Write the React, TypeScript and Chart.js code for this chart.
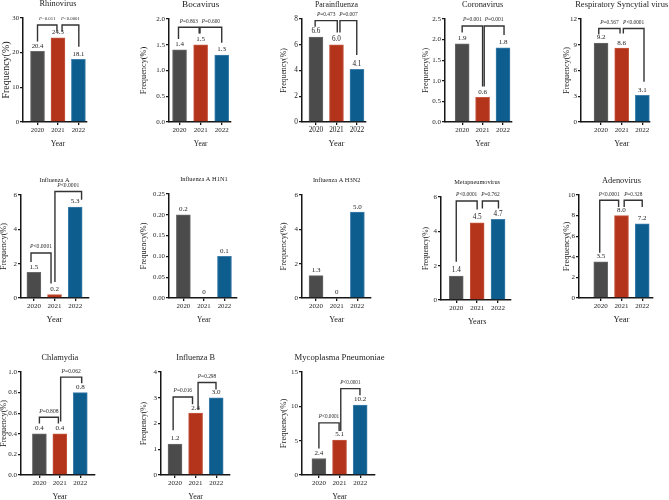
import React, { useEffect, useRef } from "react";
import { Chart, registerables } from "chart.js";

Chart.register(...registerables);

const FONT = '"Liberation Serif", "Times New Roman", serif';

// ---------------- data ----------------
const YEARS = ["2020", "2021", "2022"];
const BAR_COLORS = ["#4b4b4b", "#b3341b", "#0d5d8e"];
const BAR_EDGES = ["#6a6a6a", "#c65a43", "#3f7fab"];

const TITLES = [
  "Rhinovirus",
  "Bocavirus",
  "Parainfluenza",
  "Coronavirus",
  "Respiratory Syncytial virus",
  "Influenza A",
  "Influenza A H1N1",
  "Influenza A H3N2",
  "Metapneumovirus",
  "Adenovirus",
  "Chlamydia",
  "Influenza B",
  "Mycoplasma Pneumoniae",
];
const X_TITLES = ["Year", "Year", "Year", "Year", "Year", "Year", "Year", "Year", "Years", "Year", "Year", "Year", "Year"];
const Y_TITLE = "Frequency(%)";

const RHINOVIRUS = [20.4, 24.3, 18.1];
const BOCAVIRUS = [1.4, 1.5, 1.3];
const PARAINFLUENZA = [6.6, 6.0, 4.1];
const CORONAVIRUS = [1.9, 0.6, 1.8];
const RSV = [9.2, 8.6, 3.1];
const INFLUENZA_A = [1.5, 0.2, 5.3];
const INFLUENZA_A_H1N1 = [0.2, 0, 0.1];
const INFLUENZA_A_H3N2 = [1.3, 0, 5.0];
const METAPNEUMOVIRUS = [1.4, 4.5, 4.7];
const ADENOVIRUS = [3.5, 8.0, 7.2];
const CHLAMYDIA = [0.4, 0.4, 0.8];
const INFLUENZA_B = [1.2, 2.4, 3.0];
const MYCOPLASMA = [2.4, 5.1, 10.2];

const Y_MAX = [30, 2, 8, 2.5, 12, 6, 0.25, 6, 6, 10, 1, 4, 15];
const Y_STEP = [10, 0.5, 2, 0.5, 3, 2, 0.05, 2, 2, 2, 0.2, 1, 5];
const Y_DECIMALS = [0, 1, 0, 1, 0, 0, 2, 0, 0, 0, 1, 0, 0];

// brackets: [x from, x to, bracket height, left leg end, right leg end, label]
const BR_RHINOVIRUS = [
  [1.0, 1.95, 28.0, 23.2, 26.1, "P=0.011"],
  [2.2, 3.02, 28.0, 26.1, 21.7, "P<0.0001"],
];
const BR_BOCAVIRUS = [
  [0.95, 1.93, 1.84, 1.61, 1.72, "P=0.863"],
  [1.97, 3.0, 1.84, 1.72, 1.54, "P=0.600"],
];
const BR_PARAINFLUENZA = [
  [0.96, 2.04, 7.87, 7.4, 6.96, "P=0.473"],
  [2.17, 2.99, 7.87, 6.96, 5.2, "P=0.007"],
];
const BR_CORONAVIRUS = [
  [1.0, 2.0, 2.33, 2.17, 0.86, "P=0.001"],
  [2.08, 3.05, 2.33, 0.86, 2.11, "P=0.001"],
];
const BR_RSV = [
  [0.89, 1.92, 10.9, 10.2, 10.3, "P=0.567"],
  [2.08, 3.08, 10.9, 10.3, 4.7, "P<0.0001"],
];
const BR_INFLUENZA_A = [
  [0.86, 1.83, 2.62, 2.1, 0.84, "P<0.0001"],
  [2.02, 3.31, 6.2, 0.93, 5.73, "P<0.0001"],
];
const BR_METAPNEUMOVIRUS = [
  [1.0, 2.0, 5.77, 2.23, 5.27, "P<0.0001"],
  [2.25, 3.02, 5.77, 5.33, 5.33, "P=0.762"],
];
const BR_ADENOVIRUS = [
  [0.95, 1.86, 9.49, 4.4, 8.84, "P<0.0001"],
  [2.13, 3.0, 9.49, 8.84, 8.84, "P=0.328"],
];
const BR_CHLAMYDIA = [
  [1.0, 1.93, 0.56, 0.5, 0.5, "P=0.808"],
  [2.04, 3.07, 0.95, 0.52, 0.89, "P=0.062"],
];
const BR_INFLUENZA_B = [
  [0.91, 1.85, 3.03, 1.74, 2.75, "P=0.016"],
  [2.12, 2.99, 3.59, 2.52, 3.32, "P=0.298"],
];
const BR_MYCOPLASMA = [
  [1.0, 1.98, 7.59, 3.87, 6.4, "P<0.0001"],
  [2.06, 2.99, 12.58, 6.4, 11.6, "P<0.0001"],
];

const VALUES = [
  RHINOVIRUS, BOCAVIRUS, PARAINFLUENZA, CORONAVIRUS, RSV,
  INFLUENZA_A, INFLUENZA_A_H1N1, INFLUENZA_A_H3N2, METAPNEUMOVIRUS, ADENOVIRUS,
  CHLAMYDIA, INFLUENZA_B, MYCOPLASMA,
];
const BRACKETS: any[][] = [
  BR_RHINOVIRUS, BR_BOCAVIRUS, BR_PARAINFLUENZA, BR_CORONAVIRUS, BR_RSV,
  BR_INFLUENZA_A, [], [], BR_METAPNEUMOVIRUS, BR_ADENOVIRUS,
  BR_CHLAMYDIA, BR_INFLUENZA_B, BR_MYCOPLASMA,
];

// ---------------- layout (positions / sizes) ----------------
const LAYOUT = [
  { L: 23, T: 18, R: 87, B: 122, xmin: 0.29, xmax: 3.42, title: 8.3, yTitle: 10, yOff: 16.7, xTitle: 7.9, tick: 6.7, val: 6.7, p: 4.8 },
  { L: 169, T: 19, R: 231, B: 122, xmin: 0.5, xmax: 3.44, title: 9.2, yTitle: 8.3, yOff: 25, xTitle: 7.4, tick: 7, val: 7, p: 5.3 },
  { L: 302, T: 19, R: 366, B: 122, xmin: 0.32, xmax: 3.44, title: 7.8, yTitle: 7.8, yOff: 17.7, xTitle: 8.6, tick: 7.3, val: 7.2, p: 5.4 },
  { L: 445, T: 19, R: 512, B: 122, xmin: 0.16, xmax: 3.44, title: 8.4, yTitle: 7.9, yOff: 19, xTitle: 7.9, tick: 7, val: 7, p: 5.5 },
  { L: 581, T: 19, R: 650, B: 122, xmin: 0.03, xmax: 3.37, title: 8.5, yTitle: 8.2, yOff: 14.3, xTitle: 8.2, tick: 7, val: 7, p: 5.4 },
  { L: 21, T: 195, R: 89, B: 298, xmin: 0.375, xmax: 3.67, title: 6.3, yTitle: 8.2, yOff: 17.4, xTitle: 8.6, tick: 7, val: 7, p: 5.6 },
  { L: 169, T: 194, R: 237, B: 298, xmin: 0.3, xmax: 3.61, title: 6.4, yTitle: 8.2, yOff: 25, xTitle: 7.4, tick: 6.8, val: 7, p: 5.5 },
  { L: 302, T: 195, R: 371, B: 298, xmin: 0.32, xmax: 3.66, title: 6.4, yTitle: 8.4, yOff: 17.7, xTitle: 8.2, tick: 7, val: 7, p: 5.5 },
  { L: 441, T: 197, R: 511, B: 300, xmin: 0.27, xmax: 3.62, title: 6.3, yTitle: 7.5, yOff: 15, xTitle: 8.3, tick: 7, val: 7.2, p: 5.4 },
  { L: 579, T: 195, R: 653, B: 298, xmin: -0.05, xmax: 3.52, title: 8.4, yTitle: 8.7, yOff: 12.7, xTitle: 8.6, tick: 7, val: 7, p: 5.3 },
  { L: 21, T: 372, R: 95, B: 475, xmin: 0.1, xmax: 3.72, title: 8.4, yTitle: 8.2, yOff: 17.4, xTitle: 8, tick: 7, val: 7, p: 5.6 },
  { L: 161, T: 372, R: 230, B: 475, xmin: 0.32, xmax: 3.67, title: 8.3, yTitle: 7.5, yOff: 17.3, xTitle: 8, tick: 7, val: 7, p: 5.4 },
  { L: 302, T: 372, R: 375, B: 475, xmin: 0.18, xmax: 3.72, title: 8.7, yTitle: 8.7, yOff: 18.3, xTitle: 8, tick: 7, val: 7, p: 5.2 },
];

const Y_AXIS_W = 32;
const X_AXIS_H = 30;
const PAD_T = 26;
const PAD_R = 22;
const AXIS_COLOR = "#161616";
const TEXT_COLOR = "#1c1c1c";
const BRACKET_COLOR = "#333333";

function drawPLabel(ctx: CanvasRenderingContext2D, text: string, cx: number, cy: number, size: number) {
  const head = text.slice(0, 1);
  const rest = text.slice(1);
  ctx.font = `italic ${size}px ${FONT}`;
  const wP = ctx.measureText(head).width;
  ctx.font = `${size}px ${FONT}`;
  const wR = ctx.measureText(rest).width;
  const x0 = cx - (wP + wR) / 2;
  ctx.textAlign = "left";
  ctx.textBaseline = "middle";
  ctx.font = `italic ${size}px ${FONT}`;
  ctx.fillText(head, x0, cy);
  ctx.font = `${size}px ${FONT}`;
  ctx.fillText(rest, x0 + wP, cy);
}

function makeAnnotations(i: number) {
  const g = LAYOUT[i];
  return {
    id: "annot" + i,
    afterDatasetsDraw(chart: any) {
      const { ctx, chartArea } = chart;
      const x = chart.scales.x;
      const y = chart.scales.y;
      ctx.save();
      ctx.fillStyle = TEXT_COLOR;
      // value labels
      ctx.font = `${g.val}px ${FONT}`;
      ctx.textAlign = "center";
      ctx.textBaseline = "middle";
      VALUES[i].forEach((v: number, k: number) => {
        const label = v === 0 ? "0" : v.toFixed(1);
        ctx.fillText(label, x.getPixelForValue(k + 1), y.getPixelForValue(v) - 5.5);
      });
      // significance brackets
      ctx.strokeStyle = BRACKET_COLOR;
      ctx.lineWidth = 1.4;
      ctx.lineJoin = "miter";
      for (const br of BRACKETS[i]) {
        const [a, b, h, ya, yb, label] = br;
        const xa = x.getPixelForValue(a);
        const xb = x.getPixelForValue(b);
        const yh = y.getPixelForValue(h);
        ctx.beginPath();
        ctx.moveTo(xa, y.getPixelForValue(ya));
        ctx.lineTo(xa, yh);
        ctx.lineTo(xb, yh);
        ctx.lineTo(xb, y.getPixelForValue(yb));
        ctx.stroke();
        ctx.fillStyle = "#2a2a2a";
        drawPLabel(ctx, label, (xa + xb) / 2, yh - 6, g.p);
      }
      ctx.fillStyle = TEXT_COLOR;
      const cx = x.getPixelForValue(2);
      // panel title
      ctx.font = `${g.title}px ${FONT}`;
      ctx.textAlign = "center";
      ctx.textBaseline = "middle";
      ctx.fillText(TITLES[i], cx, chartArea.top - 14.5);
      // x title
      ctx.font = `${g.xTitle}px ${FONT}`;
      ctx.fillText(X_TITLES[i], cx, chartArea.bottom + 22);
      // y title
      ctx.save();
      ctx.translate(chartArea.left - g.yOff, (chartArea.top + chartArea.bottom) / 2);
      ctx.rotate(-Math.PI / 2);
      ctx.font = `${g.yTitle}px ${FONT}`;
      ctx.fillText(Y_TITLE, 0, 0);
      ctx.restore();
      ctx.restore();
    },
  };
}

function Panel({ i }: { i: number }) {
  const ref = useRef<HTMLCanvasElement>(null);
  const g = LAYOUT[i];
  const w = g.R - g.L + Y_AXIS_W + PAD_R;
  const h = g.B - g.T + PAD_T + X_AXIS_H;
  useEffect(() => {
    const canvas = ref.current;
    if (!canvas) return;
    const values = VALUES[i];
    const chart = new Chart(canvas, {
      type: "bar",
      data: {
        datasets: [
          {
            data: values.map((v, k) => ({ x: k + 1, y: v })),
            backgroundColor: BAR_COLORS,
            borderColor: BAR_EDGES,
            borderWidth: 1,
            barThickness: 14,
          },
        ],
      },
      options: {
        animation: false,
        responsive: false,
        devicePixelRatio: 1,
        events: [],
        layout: { padding: { top: PAD_T, right: PAD_R, left: 0, bottom: 0 } },
        plugins: {
          legend: { display: false },
          tooltip: { enabled: false },
          title: { display: false },
        },
        scales: {
          x: {
            type: "linear",
            min: g.xmin,
            max: g.xmax,
            offset: false,
            afterBuildTicks: (s: any) => {
              s.ticks = YEARS.map((_, k) => ({ value: k + 1 }));
            },
            afterFit: (s: any) => {
              s.height = X_AXIS_H;
            },
            ticks: {
              callback: (v: any) => YEARS[Math.round(Number(v)) - 1] ?? "",
              font: { family: FONT, size: g.tick },
              color: TEXT_COLOR,
              padding: 1,
              maxRotation: 0,
              autoSkip: false,
            },
            grid: {
              offset: false,
              drawOnChartArea: false,
              drawTicks: true,
              tickLength: 3,
              color: AXIS_COLOR,
              lineWidth: 1.3,
            },
            border: { color: AXIS_COLOR, width: 1.5 },
          },
          y: {
            min: 0,
            max: Y_MAX[i],
            afterFit: (s: any) => {
              s.width = Y_AXIS_W;
            },
            ticks: {
              stepSize: Y_STEP[i],
              callback: (v: any) => Number(v).toFixed(Y_DECIMALS[i]),
              font: { family: FONT, size: g.tick },
              color: TEXT_COLOR,
              padding: 1,
            },
            grid: {
              drawOnChartArea: false,
              drawTicks: true,
              tickLength: 3,
              color: AXIS_COLOR,
              lineWidth: 1.3,
            },
            border: { color: AXIS_COLOR, width: 1.5 },
          },
        },
      },
      plugins: [makeAnnotations(i)],
    } as any);
    return () => chart.destroy();
  }, [i]);
  return (
    <canvas
      ref={ref}
      width={w}
      height={h}
      style={{ position: "absolute", left: g.L - Y_AXIS_W, top: g.T - PAD_T, width: w, height: h }}
    />
  );
}

export default function App() {
  return (
    <div
      style={{
        position: "absolute",
        left: 0,
        top: 0,
        width: 669,
        height: 500,
        overflow: "hidden",
        background: "#ffffff",
      }}
    >
      {TITLES.map((_, i) => (
        <Panel key={i} i={i} />
      ))}
    </div>
  );
}
